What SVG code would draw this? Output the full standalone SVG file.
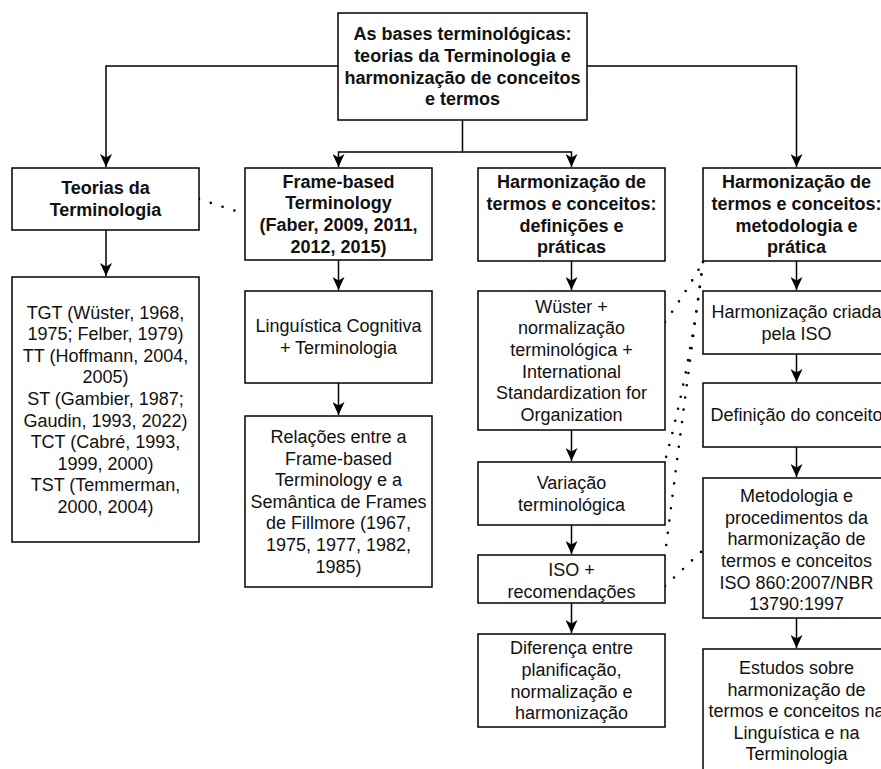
<svg xmlns="http://www.w3.org/2000/svg" width="881" height="769" viewBox="0 0 881 769">
  <defs>
    <style>
      .box { fill: #ffffff; stroke: #000000; stroke-width: 1.5; }
      .t { font-family: "Liberation Sans", Arial, Helvetica, sans-serif; font-size: 18px; fill: #111111; text-anchor: middle; }
      .b { font-weight: bold; }
      .edge { fill: none; stroke: #000000; stroke-width: 1.5; }
      .dot { fill: none; stroke: #000000; stroke-width: 2.6; stroke-linecap: round; stroke-dasharray: 0 12.4; }
    </style>
    <marker id="arrow" markerUnits="userSpaceOnUse" markerWidth="14" markerHeight="12" refX="13" refY="6" orient="auto">
      <path d="M0,0 L13,6 L0,12 L3.5,6 Z" fill="#000000"/>
    </marker>
  </defs>
  <rect width="881" height="769" fill="#ffffff"/>

  <!-- connectors -->
  <g id="connectors">
    <path class="edge" d="M338,66 H106 V167" marker-end="url(#arrow)"/>
    <path class="edge" d="M587,66 H796.5 V167" marker-end="url(#arrow)"/>
    <path class="edge" d="M462.5,120 V152 H338.5 V167" marker-end="url(#arrow)"/>
    <path class="edge" d="M462.5,152 H571.5 V167" marker-end="url(#arrow)"/>
    <path class="edge" d="M106,230 V276" marker-end="url(#arrow)"/>
    <path class="edge" d="M338.5,260 V290" marker-end="url(#arrow)"/>
    <path class="edge" d="M338.5,383 V415" marker-end="url(#arrow)"/>
    <path class="edge" d="M571.5,261 V290" marker-end="url(#arrow)"/>
    <path class="edge" d="M571.5,430 V461" marker-end="url(#arrow)"/>
    <path class="edge" d="M571.5,525 V554" marker-end="url(#arrow)"/>
    <path class="edge" d="M571.5,603 V633" marker-end="url(#arrow)"/>
    <path class="edge" d="M796.5,261 V290" marker-end="url(#arrow)"/>
    <path class="edge" d="M796.5,354 V382" marker-end="url(#arrow)"/>
    <path class="edge" d="M796.5,447 V477" marker-end="url(#arrow)"/>
    <path class="edge" d="M796.5,618 V648" marker-end="url(#arrow)"/>
    <!-- dotted associations -->
    <path class="dot" d="M199,199 L245,214"/>
    <path class="dot" d="M665,322 Q686,292 703,262"/>
    <path class="dot" d="M703,262 Q690,370 665,461"/>
    <path class="dot" d="M703,262 Q682,420 665,555"/>
    <path class="dot" d="M665,586 L703,550"/>
  </g>

  <!-- root -->
  <g id="root">
    <rect class="box" x="338" y="13" width="249" height="107"/>
    <text class="t b" x="462.5" y="40.3">As bases terminológicas:<tspan x="462.5" dy="21.6">teorias da Terminologia e</tspan><tspan x="462.5" dy="21.6">harmonização de conceitos</tspan><tspan x="462.5" dy="21.6">e termos</tspan></text>
  </g>

  <!-- column 1 -->
  <g id="teorias">
    <rect class="box" x="12" y="168" width="187" height="62"/>
    <text class="t b" x="105.5" y="194.4">Teorias da<tspan x="105.5" dy="21.6">Terminologia</tspan></text>
  </g>
  <g id="teorias-lista">
    <rect class="box" x="12" y="277" width="187" height="265"/>
    <text class="t" x="105.5" y="318.5">TGT (Wüster, 1968,<tspan x="105.5" dy="21.6">1975; Felber, 1979)</tspan><tspan x="105.5" dy="21.6">TT (Hoffmann, 2004,</tspan><tspan x="105.5" dy="21.6">2005)</tspan><tspan x="105.5" dy="21.6">ST (Gambier, 1987;</tspan><tspan x="105.5" dy="21.6">Gaudin, 1993, 2022)</tspan><tspan x="105.5" dy="21.6">TCT (Cabré, 1993,</tspan><tspan x="105.5" dy="21.6">1999, 2000)</tspan><tspan x="105.5" dy="21.6">TST (Temmerman,</tspan><tspan x="105.5" dy="21.6">2000, 2004)</tspan></text>
  </g>

  <!-- column 2 -->
  <g id="frame-based">
    <rect class="box" x="245" y="168" width="187" height="92"/>
    <text class="t b" x="338.5" y="187.8">Frame-based<tspan x="338.5" dy="21.6">Terminology</tspan><tspan x="338.5" dy="21.6">(Faber, 2009, 2011,</tspan><tspan x="338.5" dy="21.6">2012, 2015)</tspan></text>
  </g>
  <g id="linguistica-cognitiva">
    <rect class="box" x="245" y="291" width="187" height="92"/>
    <text class="t" x="338.5" y="332.4">Linguística Cognitiva<tspan x="338.5" dy="21.6">+ Terminologia</tspan></text>
  </g>
  <g id="relacoes">
    <rect class="box" x="245" y="416" width="187" height="171"/>
    <text class="t" x="338.5" y="442.9">Relações entre a<tspan x="338.5" dy="21.6">Frame-based</tspan><tspan x="338.5" dy="21.6">Terminology e a</tspan><tspan x="338.5" dy="21.6">Semântica de Frames</tspan><tspan x="338.5" dy="21.6">de Fillmore (1967,</tspan><tspan x="338.5" dy="21.6">1975, 1977, 1982,</tspan><tspan x="338.5" dy="21.6">1985)</tspan></text>
  </g>

  <!-- column 3 -->
  <g id="harmonizacao-definicoes">
    <rect class="box" x="478" y="168" width="187" height="93"/>
    <text class="t b" x="571.5" y="188.3">Harmonização de<tspan x="571.5" dy="21.6">termos e conceitos:</tspan><tspan x="571.5" dy="21.6">definições e</tspan><tspan x="571.5" dy="21.6">práticas</tspan></text>
  </g>
  <g id="wuster">
    <rect class="box" x="478" y="291" width="187" height="139"/>
    <text class="t" x="571.5" y="312.7">Wüster +<tspan x="571.5" dy="21.6">normalização</tspan><tspan x="571.5" dy="21.6">terminológica +</tspan><tspan x="571.5" dy="21.6">International</tspan><tspan x="571.5" dy="21.6">Standardization for</tspan><tspan x="571.5" dy="21.6">Organization</tspan></text>
  </g>
  <g id="variacao">
    <rect class="box" x="478" y="462" width="187" height="63"/>
    <text class="t" x="571.5" y="488.9">Variação<tspan x="571.5" dy="21.6">terminológica</tspan></text>
  </g>
  <g id="iso-recomendacoes">
    <rect class="box" x="478" y="555" width="187" height="48"/>
    <text class="t" x="571.5" y="576.4">ISO +<tspan x="571.5" dy="21.6">recomendações</tspan></text>
  </g>
  <g id="diferenca">
    <rect class="box" x="478" y="634" width="187" height="93"/>
    <text class="t" x="571.5" y="654.4">Diferença entre<tspan x="571.5" dy="21.6">planificação,</tspan><tspan x="571.5" dy="21.6">normalização e</tspan><tspan x="571.5" dy="21.6">harmonização</tspan></text>
  </g>

  <!-- column 4 -->
  <g id="harmonizacao-metodologia">
    <rect class="box" x="703" y="168" width="187" height="93"/>
    <text class="t b" x="796.5" y="188.3">Harmonização de<tspan x="796.5" dy="21.6">termos e conceitos:</tspan><tspan x="796.5" dy="21.6">metodologia e</tspan><tspan x="796.5" dy="21.6">prática</tspan></text>
  </g>
  <g id="harmonizacao-iso">
    <rect class="box" x="703" y="291" width="187" height="63"/>
    <text class="t" x="796.5" y="317.9">Harmonização criada<tspan x="796.5" dy="21.6">pela ISO</tspan></text>
  </g>
  <g id="definicao">
    <rect class="box" x="703" y="383" width="187" height="64"/>
    <text class="t" x="796.5" y="421.3">Definição do conceito</text>
  </g>
  <g id="metodologia">
    <rect class="box" x="703" y="478" width="187" height="140"/>
    <text class="t" x="796.5" y="502.2">Metodologia e<tspan x="796.5" dy="21.6">procedimentos da</tspan><tspan x="796.5" dy="21.6">harmonização de</tspan><tspan x="796.5" dy="21.6">termos e conceitos</tspan><tspan x="796.5" dy="21.6">ISO 860:2007/NBR</tspan><tspan x="796.5" dy="21.6">13790:1997</tspan></text>
  </g>
  <g id="estudos">
    <rect class="box" x="703" y="649" width="187" height="130"/>
    <text class="t" x="796.5" y="674">Estudos sobre<tspan x="796.5" dy="21.6">harmonização de</tspan><tspan x="796.5" dy="21.6">termos e conceitos na</tspan><tspan x="796.5" dy="21.6">Linguística e na</tspan><tspan x="796.5" dy="21.6">Terminologia</tspan></text>
  </g>
</svg>
